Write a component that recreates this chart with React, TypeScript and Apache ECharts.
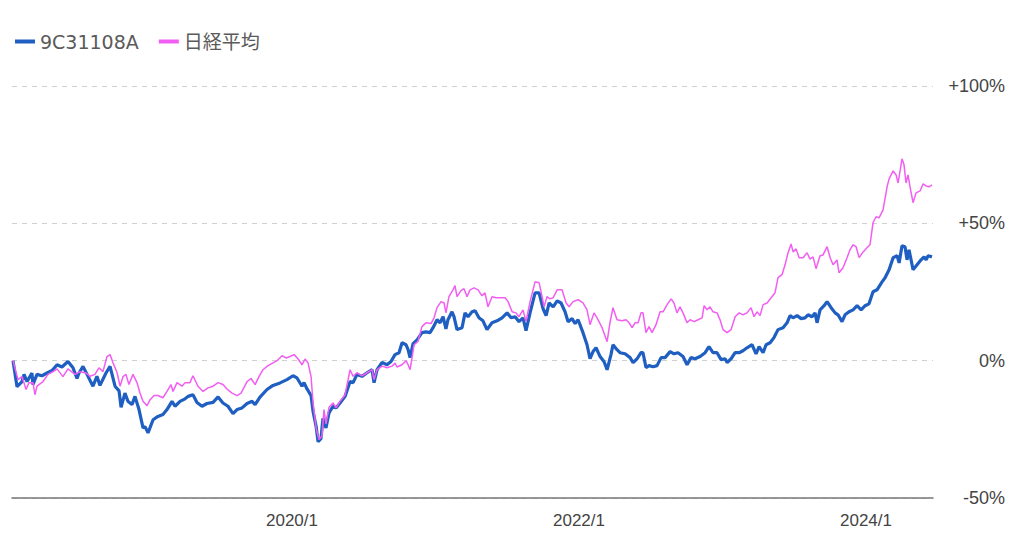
import React, { useEffect, useRef } from "react";
import * as echarts from "echarts";

// time in decimal years, value in % change
const fund: [number, number][] = [[2018.056,0],[2018.084,-9.5],[2018.119,-7.6],[2018.133,-5],[2018.154,-7.6],[2018.188,-4.5],[2018.195,-8.7],[2018.223,-5],[2018.258,-5.5],[2018.293,-4.5],[2018.328,-3.6],[2018.363,-1.5],[2018.397,-2.3],[2018.439,-0.3],[2018.474,-2.6],[2018.502,-6.5],[2018.516,-4.5],[2018.544,-2.1],[2018.572,-5],[2018.613,-9.3],[2018.641,-5.7],[2018.662,-9],[2018.704,-4.5],[2018.732,-2.1],[2018.767,-9.3],[2018.795,-11],[2018.809,-17],[2018.836,-11.8],[2018.857,-14.8],[2018.885,-16],[2018.906,-13],[2018.934,-17.8],[2018.962,-24.5],[2018.976,-24],[2018.997,-26.3],[2019.032,-21.5],[2019.066,-20.3],[2019.101,-19.6],[2019.129,-17.8],[2019.164,-14.8],[2019.185,-16.6],[2019.220,-14.8],[2019.255,-13.9],[2019.276,-13],[2019.310,-12.4],[2019.338,-15.2],[2019.373,-16.6],[2019.408,-15.6],[2019.450,-15.2],[2019.485,-13.2],[2019.519,-15.4],[2019.554,-16.6],[2019.589,-19.3],[2019.617,-17.8],[2019.652,-17.2],[2019.687,-15.6],[2019.722,-14.8],[2019.743,-16],[2019.777,-13.3],[2019.826,-10.5],[2019.868,-9],[2019.917,-8.1],[2019.965,-6.9],[2020.007,-5.5],[2020.035,-6.3],[2020.070,-9.3],[2020.084,-8],[2020.105,-10.3],[2020.133,-12.7],[2020.147,-18.5],[2020.168,-23.9],[2020.182,-29.5],[2020.202,-28.4],[2020.216,-21],[2020.237,-24.5],[2020.258,-19],[2020.286,-16.6],[2020.307,-17.2],[2020.335,-15.4],[2020.370,-13],[2020.405,-7.6],[2020.426,-8],[2020.453,-5],[2020.488,-5.7],[2020.523,-4.4],[2020.558,-3.3],[2020.572,-8],[2020.593,-3.3],[2020.628,-0.6],[2020.662,-1.5],[2020.690,-0.3],[2020.718,2.2],[2020.746,2.9],[2020.767,6.5],[2020.795,5.8],[2020.809,4],[2020.823,1.1],[2020.844,6.2],[2020.872,7.6],[2020.906,10.2],[2020.934,10.5],[2020.962,10.2],[2020.983,12],[2021.011,14.9],[2021.032,13.8],[2021.053,16],[2021.073,11.6],[2021.087,14.9],[2021.115,17.8],[2021.129,16],[2021.150,11.3],[2021.185,12],[2021.206,17.4],[2021.227,16],[2021.255,17.8],[2021.276,18.2],[2021.303,15.6],[2021.331,14.5],[2021.359,11.3],[2021.394,13.8],[2021.429,14.5],[2021.464,15.6],[2021.499,17.4],[2021.527,15.6],[2021.555,16],[2021.582,14.2],[2021.610,15.6],[2021.631,10.9],[2021.659,17.4],[2021.694,24.7],[2021.722,24.7],[2021.750,18.9],[2021.771,16.4],[2021.792,21],[2021.820,19.6],[2021.848,21.8],[2021.875,21],[2021.903,17.8],[2021.924,14.2],[2021.952,15.3],[2021.973,13.5],[2021.994,14.9],[2022.028,10.2],[2022.056,5.8],[2022.077,0.7],[2022.098,3.3],[2022.119,4.7],[2022.147,1.5],[2022.175,-0.4],[2022.196,-3.3],[2022.223,2.2],[2022.237,5.8],[2022.265,4],[2022.286,2.9],[2022.321,2.5],[2022.356,1.1],[2022.377,-0.7],[2022.405,0.7],[2022.432,2.9],[2022.446,2.9],[2022.467,-2.5],[2022.488,-1.8],[2022.516,-2.2],[2022.544,-1.8],[2022.572,1.1],[2022.600,1.1],[2022.635,3.3],[2022.662,2.5],[2022.690,2.9],[2022.725,1.5],[2022.753,-1.5],[2022.781,1.1],[2022.809,0.7],[2022.844,1.5],[2022.879,2.9],[2022.906,5.1],[2022.934,2.9],[2022.962,2.9],[2022.990,0.4],[2023.018,0.7],[2023.032,-0.7],[2023.060,0.7],[2023.088,2.9],[2023.116,2.9],[2023.143,3.6],[2023.171,4.7],[2023.206,5.8],[2023.234,2.5],[2023.255,5.1],[2023.283,2.9],[2023.304,5.8],[2023.332,6.5],[2023.359,8.4],[2023.387,11.3],[2023.422,12],[2023.450,13.8],[2023.471,16.4],[2023.492,15.6],[2023.520,16.4],[2023.548,15.3],[2023.575,15.6],[2023.596,16.7],[2023.624,16],[2023.645,17.4],[2023.659,13.8],[2023.680,18.5],[2023.708,20],[2023.729,21.5],[2023.757,19.3],[2023.785,17.4],[2023.805,16.7],[2023.833,14.2],[2023.854,16.7],[2023.882,17.8],[2023.910,18.5],[2023.938,20],[2023.966,18.5],[2023.994,20],[2024.021,20.7],[2024.049,25.1],[2024.077,25.8],[2024.112,28.7],[2024.133,30.2],[2024.161,33.1],[2024.189,37.5],[2024.217,38.2],[2024.231,35.6],[2024.251,41.8],[2024.272,41.5],[2024.286,36.7],[2024.300,40.4],[2024.328,33.1],[2024.356,34.9],[2024.384,36.7],[2024.405,37.8],[2024.419,36.7],[2024.433,38.2],[2024.460,37.8]];

const nikkei: [number, number][] = [[2018.056,0],[2018.091,-6.9],[2018.119,-5.8],[2018.147,-10.5],[2018.167,-8],[2018.195,-8],[2018.209,-12.4],[2018.223,-9.3],[2018.265,-7.6],[2018.300,-5],[2018.335,-4],[2018.363,-3],[2018.404,-5.8],[2018.439,-3],[2018.488,-5],[2018.523,-4],[2018.565,-4.5],[2018.593,-5.7],[2018.627,-5],[2018.655,-2.6],[2018.683,-4],[2018.711,1.5],[2018.732,2.2],[2018.753,-0.8],[2018.781,-4.3],[2018.802,-9.3],[2018.823,-5.8],[2018.843,-5],[2018.864,-8.7],[2018.892,-5],[2018.920,-8],[2018.941,-11.8],[2018.962,-14.8],[2018.990,-16.4],[2019.011,-14.2],[2019.039,-12.7],[2019.066,-12.7],[2019.101,-13.5],[2019.129,-11.2],[2019.157,-8.7],[2019.171,-11.2],[2019.199,-8],[2019.234,-9.3],[2019.255,-8],[2019.289,-8],[2019.310,-5.5],[2019.345,-9.3],[2019.380,-11.2],[2019.415,-9.9],[2019.450,-9.3],[2019.485,-8],[2019.519,-8.7],[2019.547,-10.3],[2019.582,-11.8],[2019.617,-12.7],[2019.645,-11.8],[2019.687,-7.6],[2019.715,-6.5],[2019.743,-8.7],[2019.770,-5.8],[2019.798,-3.3],[2019.833,-1.8],[2019.868,-0.8],[2019.896,0],[2019.931,1.8],[2019.959,1],[2019.987,1.5],[2020.015,2.2],[2020.043,0.6],[2020.070,-1.5],[2020.091,0.6],[2020.112,-0.8],[2020.133,-5.8],[2020.147,-15.4],[2020.168,-24.5],[2020.188,-28.7],[2020.209,-27.5],[2020.223,-17.8],[2020.237,-23],[2020.258,-17],[2020.286,-15.4],[2020.307,-17.2],[2020.335,-14.8],[2020.370,-12.4],[2020.405,-3.3],[2020.426,-5.7],[2020.453,-4.4],[2020.488,-5.5],[2020.523,-4.4],[2020.558,-3.3],[2020.572,-6.9],[2020.593,-3.3],[2020.628,-2],[2020.662,-2.6],[2020.697,-2],[2020.718,-0.9],[2020.732,-2.3],[2020.767,-1.5],[2020.795,0],[2020.809,-1.5],[2020.823,-3.3],[2020.851,5.8],[2020.878,7],[2020.906,12.4],[2020.934,13.8],[2020.969,13.5],[2020.990,15.6],[2021.011,19.3],[2021.039,21.5],[2021.060,21],[2021.073,17.4],[2021.094,23.3],[2021.122,25.8],[2021.136,27.3],[2021.150,23.3],[2021.178,25.5],[2021.199,26.2],[2021.220,23.3],[2021.241,25.8],[2021.269,26.5],[2021.297,25.8],[2021.324,23.6],[2021.345,24.7],[2021.366,19.6],[2021.394,23.3],[2021.422,22.9],[2021.450,22.9],[2021.485,22.9],[2021.506,21.5],[2021.534,17.8],[2021.561,17.4],[2021.582,16],[2021.610,18.5],[2021.631,14.2],[2021.659,21.5],[2021.694,28.7],[2021.722,28.4],[2021.743,23.3],[2021.757,19.6],[2021.777,23.3],[2021.798,22.5],[2021.820,22.9],[2021.848,25.8],[2021.882,25.8],[2021.910,21],[2021.931,19.6],[2021.959,21.5],[2021.994,22.2],[2022.028,21],[2022.056,18.5],[2022.077,13.1],[2022.105,17.4],[2022.126,15.6],[2022.161,12],[2022.196,6.9],[2022.216,13.8],[2022.237,19.3],[2022.265,14.9],[2022.300,14.5],[2022.328,14.9],[2022.349,13.8],[2022.370,12],[2022.391,13.8],[2022.412,13.8],[2022.432,17.4],[2022.446,17.4],[2022.467,10.2],[2022.488,12.4],[2022.509,10.2],[2022.537,13.1],[2022.565,17.8],[2022.586,17.8],[2022.614,20.4],[2022.642,22.5],[2022.662,21],[2022.683,17.4],[2022.704,19.6],[2022.725,17.4],[2022.753,13.8],[2022.774,14.9],[2022.802,14.2],[2022.830,14.9],[2022.858,15.6],[2022.872,20],[2022.893,18.5],[2022.913,19.6],[2022.934,17.8],[2022.962,17.4],[2022.983,14.9],[2023.004,11.3],[2023.032,10.2],[2023.060,11.3],[2023.088,16],[2023.116,17.4],[2023.143,16.7],[2023.171,17.4],[2023.199,19.3],[2023.220,16],[2023.241,17.8],[2023.262,16.4],[2023.283,20.4],[2023.311,21],[2023.339,22.9],[2023.366,24.7],[2023.387,30.2],[2023.415,31.3],[2023.436,34.9],[2023.457,39.3],[2023.478,42.5],[2023.492,39.6],[2023.513,40.7],[2023.534,37.5],[2023.562,37.5],[2023.589,39.3],[2023.610,37],[2023.631,37.8],[2023.652,33.5],[2023.680,38.2],[2023.701,38.5],[2023.729,41.5],[2023.750,37.5],[2023.771,34.9],[2023.798,36.7],[2023.812,32],[2023.840,33.8],[2023.868,37.5],[2023.889,40.4],[2023.910,42.2],[2023.931,41.5],[2023.952,37.5],[2023.980,39.6],[2024.007,41.1],[2024.028,42.2],[2024.049,50.2],[2024.070,52.4],[2024.091,52],[2024.119,54.9],[2024.147,63.3],[2024.161,66.2],[2024.189,69.1],[2024.210,67.6],[2024.224,64.7],[2024.251,73.5],[2024.265,71.3],[2024.279,64.7],[2024.293,67.6],[2024.307,63.3],[2024.328,57.5],[2024.349,61.1],[2024.377,61.8],[2024.398,64.4],[2024.419,63.6],[2024.440,63.3],[2024.460,64]];

const seriesNames = ["9C31108A", "日経平均"];
const xTickYears = [2020, 2022, 2024];
const yTicks = { min: -50, max: 100, step: 50 };
const xRange = { min: 2018.049, max: 2024.467 };

const FONT = "'Liberation Sans', 'Noto Sans CJK JP', sans-serif";
const LEGEND_FONT = "'DejaVu Sans', 'Noto Sans CJK JP', sans-serif";

export default function App() {
  const ref = useRef<HTMLDivElement>(null);
  useEffect(() => {
    if (!ref.current) return;
    const chart = echarts.init(ref.current, null, { renderer: "svg" });
    chart.setOption({
      animation: false,
      backgroundColor: "#ffffff",
      textStyle: { fontFamily: FONT },
      legend: {
        left: 10,
        top: 27,
        itemWidth: 20,
        itemHeight: 4,
        itemGap: 20,
        icon: "rect",
        textStyle: { fontSize: 19, color: "#5a5a5a", fontFamily: LEGEND_FONT },
        data: seriesNames,
      },
      grid: { left: 12, right: 91, top: 86, bottom: 41, containLabel: false },
      xAxis: {
        type: "value",
        min: xRange.min,
        max: xRange.max,
        splitLine: { show: false },
        axisTick: { show: false },
        axisLine: { show: true, onZero: false, lineStyle: { color: "#777", width: 1.5 } },
        axisLabel: {
          customValues: xTickYears,
          formatter: (v: number) => `${Math.round(v)}/1`,
          fontSize: 17,
          color: "#444",
          margin: 14,
          fontFamily: FONT,
        },
      },
      yAxis: {
        type: "value",
        position: "right",
        min: yTicks.min,
        max: yTicks.max,
        interval: yTicks.step,
        axisLine: { show: false },
        axisTick: { show: false },
        splitLine: { show: true, lineStyle: { type: [5, 5], color: "#d0d0d0", width: 1 } },
        axisLabel: {
          formatter: (v: number) => (v > 0 ? `+${v}%` : `${v}%`),
          fontSize: 18,
          color: "#444",
          align: "right",
          margin: 72,
          fontFamily: FONT,
        },
      },
      series: [
        {
          name: seriesNames[0],
          type: "line",
          data: fund,
          showSymbol: false,
          symbol: "none",
          lineStyle: { color: "#1f5fc2", width: 3.2 },
          itemStyle: { color: "#1f5fc2" },
          z: 2,
        },
        {
          name: seriesNames[1],
          type: "line",
          data: nikkei,
          showSymbol: false,
          symbol: "none",
          lineStyle: { color: "#f25ef2", width: 1.5 },
          itemStyle: { color: "#f25ef2" },
          z: 3,
        },
      ],
    });
    return () => chart.dispose();
  }, []);
  return (
    <div
      ref={ref}
      style={{ position: "absolute", left: 0, top: 0, width: 1024, height: 539 }}
    />
  );
}
